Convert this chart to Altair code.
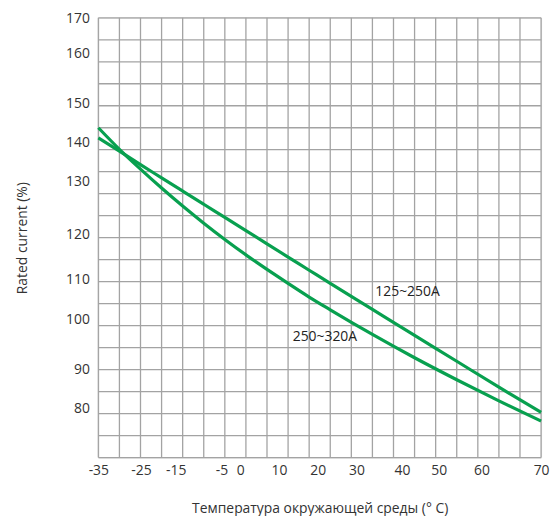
import json
import altair as alt
import pandas as pd

# Curve data (temperature °C -> rated current %)
temps = [-35, -30, -25, -20, -15, -10, -5, 0, 5, 10, 15, 20, 30, 40, 50, 60, 70]
rated_125_250 = [142.7, 139.7, 136.6, 133.6, 130.6, 127.6, 124.6, 121.6, 118.6, 115.6,
                 112.6, 109.6, 103.7, 97.8, 91.9, 86.0, 80.3]
rated_250_320 = [145.0, 140.1, 135.6, 131.3, 127.2, 123.3, 119.6, 116.1, 112.8, 109.6,
                 106.5, 103.6, 98.0, 92.7, 87.7, 82.9, 78.3]
series_names = ["125~250A", "250~320A"]

# Grid lines
x_grid = list(range(-35, 71, 5))
y_grid = list(range(70, 171, 5))

# Tick labels as printed (positions where they sit on the drawing)
x_label_pos = [-35, -24.88, -16.64, -5.81, -1.34, 7.84, 17.02, 26.2, 37.03, 45.74, 55.87, 70]
x_label_text = ["-35", "-25", "-15", "-5", "0", "10", "20", "30", "40", "50", "60", "70"]
y_label_pos = [169.8, 161.8, 150.6, 141.6, 132.7, 120.7, 110.4, 101.4, 90.1, 81.2]
y_label_text = ["170", "160", "150", "140", "130", "120", "110", "100", "90", "80"]

# Curve annotation positions
label_t = [30.7, 11.1]
label_v = [107.7, 97.3]

FONT = "Open Sans"
GREEN = "#08a04f"
GRID = "#a3a3a3"

rows = []
for name, vals in zip(series_names, [rated_125_250, rated_250_320]):
    for t, v in zip(temps, vals):
        rows.append({"t": t, "v": v, "series": name})
curves = pd.DataFrame(rows)

xs = alt.Scale(domain=[-35, 70], nice=False, zero=False)
ys = alt.Scale(domain=[70, 170], nice=False, zero=False)

x_axis = alt.Axis(
    values=x_label_pos,
    labelExpr=f"{json.dumps(x_label_text)}[indexof({json.dumps(x_label_pos)}, datum.value)]",
    grid=False, ticks=False, domain=False,
    labelFont=FONT, labelFontSize=14, labelColor="#333333", labelPadding=6,
    labelFlush=False, labelOverlap=False,
    title="Температура окружающей среды (° C)",
    titleFont=FONT, titleFontSize=14, titleFontWeight="normal", titleColor="#333333",
    titlePadding=24,
)
y_axis = alt.Axis(
    values=y_label_pos,
    labelExpr=f"{json.dumps(y_label_text)}[indexof({json.dumps(y_label_pos)}, datum.value)]",
    grid=False, ticks=False, domain=False,
    labelFont=FONT, labelFontSize=14, labelColor="#333333", labelPadding=9,
    labelFlush=False, labelOverlap=False,
    title="Rated current (%)",
    titleFont=FONT, titleFontSize=14, titleFontWeight="normal", titleColor="#333333",
    titlePadding=36,
)

vgrid = alt.Chart(pd.DataFrame({"g": x_grid})).mark_rule(
    color=GRID, strokeWidth=1.3
).encode(x=alt.X("g:Q", scale=xs, axis=x_axis))

hgrid = alt.Chart(pd.DataFrame({"g": y_grid})).mark_rule(
    color=GRID, strokeWidth=1.3
).encode(y=alt.Y("g:Q", scale=ys, axis=y_axis))

lines = alt.Chart(curves).mark_line(
    color=GREEN, strokeWidth=3.2, interpolate="monotone"
).encode(
    x=alt.X("t:Q", scale=xs, axis=x_axis),
    y=alt.Y("v:Q", scale=ys, axis=y_axis),
    detail="series:N",
)

labels = alt.Chart(pd.DataFrame({"t": label_t, "v": label_v, "text": series_names})).mark_text(
    align="left", baseline="middle", font=FONT, fontSize=14, color="#222222"
).encode(
    x=alt.X("t:Q", scale=xs, axis=x_axis),
    y=alt.Y("v:Q", scale=ys, axis=y_axis),
    text="text:N",
)

chart = alt.layer(vgrid, hgrid, lines, labels).properties(
    width=446, height=443,
    autosize=alt.AutoSizeParams(type="none"),
    padding={"left": 91, "top": 8, "right": 10, "bottom": 57},
).configure_view(stroke=None).configure(background="white")

chart.save("out.html", embed_options={"renderer": "svg", "actions": False})
